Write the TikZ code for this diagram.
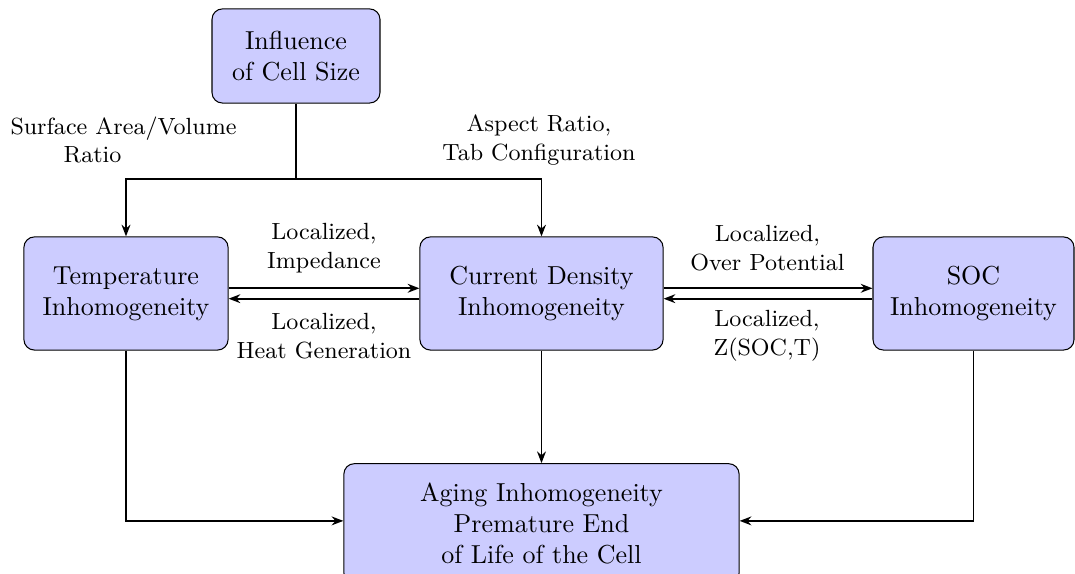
\documentclass[tikz,border=0pt]{standalone}
\usetikzlibrary{arrows.meta}
\begin{document}
\begin{tikzpicture}[x=0.3846pt,y=-0.3846pt,
  box/.style={draw=black, fill=blue!20, rounded corners=4pt, align=center, line width=0.4pt, inner sep=0pt},
  lab/.style={font=\small, align=center, inner sep=0pt},
  conn/.style={line width=0.75pt, -{Stealth[length=4.5pt,width=3.4pt]}},
  plain/.style={line width=0.75pt}]
\clip (0,0) rectangle (1075,574);
\node[box, minimum width=64.6pt, minimum height=36.2pt] (top) at (296,56) {Influence\\of Cell Size};
\node[box, minimum width=78.5pt, minimum height=43.5pt] (temp) at (126,293.5) {Temperature\\Inhomogeneity};
\node[box, minimum width=93.5pt, minimum height=43.5pt] (cur) at (541.5,293.5) {Current Density\\Inhomogeneity};
\node[box, minimum width=77.3pt, minimum height=43.5pt] (soc) at (973.5,293.5) {SOC\\Inhomogeneity};
\node[box, minimum width=152pt, minimum height=46pt] (age) at (541.5,523.5) {Aging Inhomogeneity\\Premature End\\of Life of the Cell};
\coordinate (j) at (296,179);
\draw[plain] (top.south) -- (j);
\draw[conn] (j) -| (temp.north);
\draw[conn] (j) -| (cur.north);
\draw[conn] ([yshift=2pt]temp.east) -- ([yshift=2pt]cur.west);
\draw[conn] ([yshift=-2pt]cur.west) -- ([yshift=-2pt]temp.east);
\draw[conn] ([yshift=2pt]cur.east) -- ([yshift=2pt]soc.west);
\draw[conn] ([yshift=-2pt]soc.west) -- ([yshift=-2pt]cur.east);
\draw[conn] (cur.south) -- (age.north);
\draw[conn] (temp.south) |- ([yshift=1pt]age.west);
\draw[conn] (soc.south) |- ([yshift=1pt]age.east);
\node[lab, anchor=west, align=left] (l1) at (10,140) {Surface Area/Volume\\\hspace*{20.4pt}Ratio};
\node[lab] (l2) at (539,140) {Aspect Ratio,\\Tab Configuration};
\node[lab] (l3) at (324,248) {Localized,\\Impedance};
\node[lab] (l4) at (324,336) {Localized,\\Heat Generation};
\node[lab] (l5) at (767.5,248) {Localized,\\Over Potential};
\node[lab] (l6) at (767,336) {Localized,\\Z(SOC,T)};
\end{tikzpicture}
\end{document}
